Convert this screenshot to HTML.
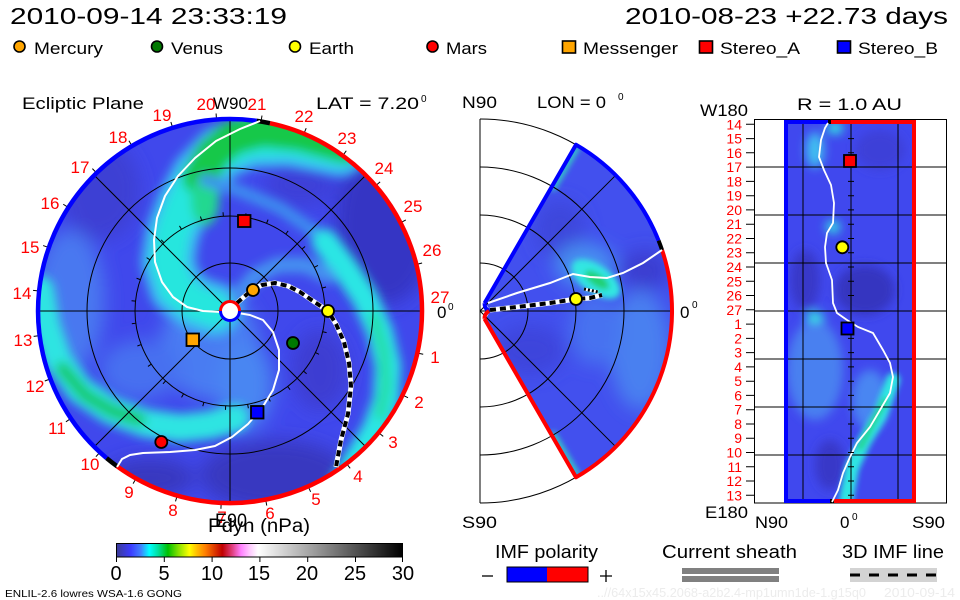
<!DOCTYPE html>
<html><head><meta charset="utf-8"><style>
html,body{margin:0;padding:0;background:#fff;}
svg{display:block;}
text{font-family:"Liberation Sans",sans-serif;}
</style></head><body>
<svg width="960" height="600" viewBox="0 0 960 600" xmlns="http://www.w3.org/2000/svg">
<defs>
<clipPath id="disk"><circle cx="230" cy="311" r="193"/></clipPath>
<clipPath id="wedge"><path d="M484.5,303.2 L576,144.7 A192,192 0 0 1 576,477.3 L484.5,318.8 A9,9 0 0 0 484.5,303.2 Z"/></clipPath>
<clipPath id="rbox"><rect x="786" y="122" width="128" height="380"/></clipPath>
<filter id="b8" x="-50%" y="-50%" width="200%" height="200%"><feGaussianBlur stdDeviation="9"/></filter>
<filter id="b5" x="-50%" y="-50%" width="200%" height="200%"><feGaussianBlur stdDeviation="5"/></filter>
<filter id="b3" x="-50%" y="-50%" width="200%" height="200%"><feGaussianBlur stdDeviation="3"/></filter>
<linearGradient id="cbar" x1="0" x2="1" y1="0" y2="0">
<stop offset="0" stop-color="#3c3c96"/>
<stop offset="0.05" stop-color="#3c3cff"/>
<stop offset="0.085" stop-color="#4080ff"/>
<stop offset="0.115" stop-color="#00ffff"/>
<stop offset="0.145" stop-color="#00e0a0"/>
<stop offset="0.18" stop-color="#00c000"/>
<stop offset="0.215" stop-color="#80e000"/>
<stop offset="0.255" stop-color="#ffff00"/>
<stop offset="0.28" stop-color="#ffc000"/>
<stop offset="0.31" stop-color="#ff8000"/>
<stop offset="0.34" stop-color="#e04000"/>
<stop offset="0.37" stop-color="#c00000"/>
<stop offset="0.405" stop-color="#e04080"/>
<stop offset="0.435" stop-color="#ff80ff"/>
<stop offset="0.465" stop-color="#ffc8ff"/>
<stop offset="0.495" stop-color="#ffffff"/>
<stop offset="1" stop-color="#000000"/>
</linearGradient>
<line id="ot" x1="423" y1="311" x2="428" y2="311" stroke="#000" stroke-width="1"/>
<line id="it" x1="325" y1="311" x2="329" y2="311" stroke="#000" stroke-width="1"/>
</defs>

<!-- Header -->
<text x="10" y="24" font-size="23.5" textLength="277" lengthAdjust="spacingAndGlyphs">2010-09-14 23:33:19</text>
<text x="625" y="24" font-size="23.5" textLength="323" lengthAdjust="spacingAndGlyphs">2010-08-23 +22.73 days</text>

<!-- Legend -->
<g stroke="#000" stroke-width="1.6">
<circle cx="19.5" cy="46.5" r="5.5" fill="#ffa500"/>
<circle cx="157" cy="46.5" r="5.5" fill="#007800"/>
<circle cx="295" cy="46.5" r="5.5" fill="#ffff00"/>
<circle cx="432.5" cy="46.5" r="5.5" fill="#ff0000"/>
<rect x="562.5" y="41" width="13" height="12" fill="#ffa500"/>
<rect x="699.5" y="41" width="13" height="12" fill="#ff0000"/>
<rect x="837.5" y="41" width="13" height="12" fill="#0000ff"/>
</g>
<g font-size="17">
<text x="34" y="54" textLength="69" lengthAdjust="spacingAndGlyphs">Mercury</text>
<text x="171" y="54" textLength="52" lengthAdjust="spacingAndGlyphs">Venus</text>
<text x="309" y="54" textLength="45" lengthAdjust="spacingAndGlyphs">Earth</text>
<text x="446" y="54" textLength="41" lengthAdjust="spacingAndGlyphs">Mars</text>
<text x="583" y="54" textLength="95" lengthAdjust="spacingAndGlyphs">Messenger</text>
<text x="720" y="54" textLength="80" lengthAdjust="spacingAndGlyphs">Stereo_A</text>
<text x="858" y="54" textLength="80" lengthAdjust="spacingAndGlyphs">Stereo_B</text>
</g>

<!-- Panel titles -->
<g font-size="17">
<text x="22" y="109" textLength="122" lengthAdjust="spacingAndGlyphs">Ecliptic Plane</text>
<text x="213" y="109" textLength="35" lengthAdjust="spacingAndGlyphs">W90</text>
<text x="316" y="109" textLength="103" lengthAdjust="spacingAndGlyphs">LAT = 7.20</text>
<text x="421" y="102" font-size="10">0</text>
<text x="462" y="108" textLength="35" lengthAdjust="spacingAndGlyphs">N90</text>
<text x="537" y="108" textLength="69" lengthAdjust="spacingAndGlyphs">LON = 0</text>
<text x="618" y="100" font-size="10">0</text>
<text x="700" y="116" textLength="48" lengthAdjust="spacingAndGlyphs">W180</text>
<text x="797" y="110" textLength="105" lengthAdjust="spacingAndGlyphs">R = 1.0 AU</text>
</g>

<!-- ============ LEFT DISK ============ -->
<g clip-path="url(#disk)">
<circle cx="230" cy="311" r="193" fill="#4048ec"/>
<g filter="url(#b8)">
<ellipse cx="385" cy="225" rx="50" ry="80" fill="#3636c4"/>
<ellipse cx="275" cy="475" rx="75" ry="35" fill="#3838c0"/>
<ellipse cx="150" cy="478" rx="45" ry="20" fill="#3838c0"/>
<ellipse cx="100" cy="190" rx="40" ry="50" fill="#3c40d4"/>
<ellipse cx="320" cy="370" rx="28" ry="40" fill="#3c3ed2"/>
<ellipse cx="300" cy="185" rx="35" ry="22" fill="#3c40d8"/>
<ellipse cx="210" cy="345" rx="50" ry="55" fill="#4a7cf2"/>
<ellipse cx="70" cy="300" rx="35" ry="70" fill="#4878f0"/>
<ellipse cx="245" cy="385" rx="28" ry="45" fill="#4a86f2"/>
<ellipse cx="140" cy="370" rx="40" ry="30" fill="#4670f0"/>
</g>
<g filter="url(#b5)" fill="none" stroke-linecap="round" stroke-linejoin="round">
<!-- arm A -->
<polyline points="340,150 290,140 250,141 220,153 198,176 183,205 172,235 168,262 176,288 195,303 215,310" stroke="#3ab8f2" stroke-width="54"/>
<polyline points="340,150 290,140 250,141 220,153 198,176 183,205 172,235 168,262 176,288 195,303 215,310" stroke="#26e6de" stroke-width="34"/>
<polyline points="345,146 300,134 262,130 232,138 212,155 200,178" stroke="#14c84a" stroke-width="34"/>
<ellipse cx="205" cy="200" rx="14" ry="26" fill="#20d890" stroke="none"/>
<!-- arm B -->
<polyline points="205,180 240,191 280,208 315,232 335,255" stroke="#3e90f0" stroke-width="12"/>
<polyline points="325,242 345,268 365,298 380,332 388,366 386,400 375,430 358,458 342,485" stroke="#2ae6e4" stroke-width="26"/>
<polyline points="374,318 384,352 386,386 380,415" stroke="#24dca0" stroke-width="10"/>
<!-- arm C -->
<polyline points="238,296 255,276 278,265 305,265 328,276" stroke="#4490f0" stroke-width="16"/>
<!-- arm D -->
<polyline points="40,290 46,325 58,360 80,390 110,410 145,423 180,428 210,425 235,418" stroke="#2ee4e2" stroke-width="28"/>
<polyline points="62,368 85,395 112,411 140,420" stroke="#18c860" stroke-width="12"/>
</g>
</g>
<!-- disk grid -->
<g fill="none" stroke="#000" stroke-width="1">
<circle cx="230" cy="311" r="48"/>
<circle cx="230" cy="311" r="95"/>
<circle cx="230" cy="311" r="143"/>
<line x1="37" y1="311" x2="423" y2="311"/>
<line x1="230" y1="118" x2="230" y2="504"/>
<line x1="94" y1="175" x2="366" y2="447"/>
<line x1="94" y1="447" x2="366" y2="175"/>
</g>
<!-- ticks -->
<g>
<use href="#ot" transform="rotate(12.63 230 311)"/><use href="#ot" transform="rotate(25.97 230 311)"/><use href="#ot" transform="rotate(39.3 230 311)"/><use href="#ot" transform="rotate(52.63 230 311)"/><use href="#ot" transform="rotate(65.97 230 311)"/><use href="#ot" transform="rotate(79.3 230 311)"/><use href="#ot" transform="rotate(92.63 230 311)"/><use href="#ot" transform="rotate(105.97 230 311)"/><use href="#ot" transform="rotate(119.3 230 311)"/><use href="#ot" transform="rotate(132.63 230 311)"/><use href="#ot" transform="rotate(145.97 230 311)"/><use href="#ot" transform="rotate(159.3 230 311)"/><use href="#ot" transform="rotate(172.63 230 311)"/><use href="#ot" transform="rotate(185.97 230 311)"/><use href="#ot" transform="rotate(199.3 230 311)"/><use href="#ot" transform="rotate(212.63 230 311)"/><use href="#ot" transform="rotate(225.97 230 311)"/><use href="#ot" transform="rotate(239.3 230 311)"/><use href="#ot" transform="rotate(252.63 230 311)"/><use href="#ot" transform="rotate(265.97 230 311)"/><use href="#ot" transform="rotate(279.3 230 311)"/><use href="#ot" transform="rotate(292.63 230 311)"/><use href="#ot" transform="rotate(305.97 230 311)"/><use href="#ot" transform="rotate(319.3 230 311)"/><use href="#ot" transform="rotate(332.63 230 311)"/><use href="#ot" transform="rotate(345.97 230 311)"/>
<use href="#it" transform="rotate(12.63 230 311)"/><use href="#it" transform="rotate(25.97 230 311)"/><use href="#it" transform="rotate(39.3 230 311)"/><use href="#it" transform="rotate(52.63 230 311)"/><use href="#it" transform="rotate(65.97 230 311)"/><use href="#it" transform="rotate(79.3 230 311)"/><use href="#it" transform="rotate(92.63 230 311)"/><use href="#it" transform="rotate(105.97 230 311)"/><use href="#it" transform="rotate(119.3 230 311)"/><use href="#it" transform="rotate(132.63 230 311)"/><use href="#it" transform="rotate(145.97 230 311)"/><use href="#it" transform="rotate(159.3 230 311)"/><use href="#it" transform="rotate(172.63 230 311)"/><use href="#it" transform="rotate(185.97 230 311)"/><use href="#it" transform="rotate(199.3 230 311)"/><use href="#it" transform="rotate(212.63 230 311)"/><use href="#it" transform="rotate(225.97 230 311)"/><use href="#it" transform="rotate(239.3 230 311)"/><use href="#it" transform="rotate(252.63 230 311)"/><use href="#it" transform="rotate(265.97 230 311)"/><use href="#it" transform="rotate(279.3 230 311)"/><use href="#it" transform="rotate(292.63 230 311)"/><use href="#it" transform="rotate(305.97 230 311)"/><use href="#it" transform="rotate(319.3 230 311)"/><use href="#it" transform="rotate(332.63 230 311)"/><use href="#it" transform="rotate(345.97 230 311)"/>
</g>
<!-- boundary arcs -->
<g fill="none" stroke-width="4.5">
<path d="M256.7,120.9 A192,192 0 0 0 106.6,458.1" stroke="#0000ff"/>
<path d="M117.1,466.3 A192,192 0 1 0 269.9,123.2" stroke="#ff0000"/>
<path d="M269.9,123.2 A192,192 0 0 0 256.7,120.9" stroke="#000"/>
<path d="M106.6,458.1 A192,192 0 0 0 117.1,466.3" stroke="#000"/>
</g>
<!-- current sheet lines -->
<g fill="none" stroke="#fff" stroke-width="2" stroke-linejoin="round">
<polyline points="221,312 203,311 187,307 173,297 162,282 155,262 154,240 157,218 165,196 178,176 195,158 216,141 240,129 260,121"/>
<polyline points="238,313 250,315 263,320 273,332 279,350 279,370 273,390 262,408 248,424 232,437 215,446 195,450 170,452 143,453 130,455 122,459 117,467"/>
</g>
<!-- IMF dashed line -->
<g fill="none" stroke-linejoin="round">
<polyline points="237,303 245,296 252,290 262,285 275,283 288,286 300,292 313,301 328,311 336,324 344,342 349,363 351,386 348,414 341,440 336,467" stroke="#fff" stroke-width="5"/>
<polyline points="237,303 245,296 252,290 262,285 275,283 288,286 300,292 313,301 328,311 336,324 344,342 349,363 351,386 348,414 341,440 336,467" stroke="#000" stroke-width="4" stroke-dasharray="6 4"/>
</g>
<!-- center -->
<circle cx="230" cy="311" r="9" fill="#fff"/>
<path d="M220.5,311 A9.5,9.5 0 0 1 239.5,311" fill="none" stroke="#ff0000" stroke-width="3"/>
<path d="M220.5,311 A9.5,9.5 0 0 0 239.5,311" fill="none" stroke="#0000ff" stroke-width="3"/>
<!-- markers -->
<g stroke="#000" stroke-width="1.8">
<rect x="238" y="215" width="12.5" height="12" fill="#ff0000"/>
<circle cx="253" cy="290" r="6" fill="#ffa500"/>
<circle cx="328" cy="311" r="6" fill="#ffff00"/>
<circle cx="293" cy="343" r="6" fill="#007800"/>
<rect x="186.5" y="333.5" width="12.5" height="12.5" fill="#ffa500"/>
<rect x="251" y="406" width="12.5" height="12.5" fill="#0000ff"/>
<circle cx="161.3" cy="442" r="6" fill="#ff0000"/>
</g>
<!-- disk labels -->
<g font-size="17" fill="#ff0000" text-anchor="middle">
<text x="162" y="121">19</text><text x="206" y="110">20</text><text x="257" y="110">21</text><text x="304" y="122">22</text><text x="347" y="144">23</text><text x="384" y="174">24</text><text x="413" y="212">25</text><text x="432" y="256">26</text><text x="440" y="303">27</text><text x="435" y="363">1</text><text x="419" y="408">2</text><text x="393" y="448">3</text><text x="358" y="482">4</text><text x="316" y="505">5</text><text x="270" y="519">6</text><text x="222" y="523">7</text><text x="173" y="516">8</text><text x="129" y="498">9</text><text x="90" y="470">10</text><text x="57" y="434">11</text><text x="35" y="392">12</text><text x="23" y="346">13</text><text x="22" y="299">14</text><text x="30" y="253">15</text><text x="50" y="209">16</text><text x="80" y="173">17</text><text x="118" y="143">18</text>
</g>
<text x="437" y="318" font-size="17">0</text>
<text x="448" y="310" font-size="10">0</text>
<text x="215" y="527" font-size="19" textLength="32" lengthAdjust="spacingAndGlyphs">E90</text>
<text x="208" y="532" font-size="19" textLength="102" lengthAdjust="spacingAndGlyphs">Pdyn (nPa)</text>

<!-- ============ MIDDLE PANEL ============ -->
<g clip-path="url(#wedge)">
<rect x="470" y="130" width="210" height="360" fill="#4250ee"/>
<g filter="url(#b8)">
<ellipse cx="640" cy="350" rx="30" ry="60" fill="#4a80f0"/>
<ellipse cx="595" cy="330" rx="25" ry="35" fill="#4672f0"/>
<ellipse cx="645" cy="270" rx="25" ry="20" fill="#3a3cd0"/>
<ellipse cx="530" cy="350" rx="35" ry="25" fill="#3c44dc"/>
<ellipse cx="560" cy="230" rx="25" ry="30" fill="#3c46dc"/>
<ellipse cx="585" cy="265" rx="30" ry="22" fill="#4690f0"/>
</g>
<g filter="url(#b3)">
<ellipse cx="596" cy="279" rx="28" ry="14" fill="#30e6e2" transform="rotate(35 596 279)"/>
<ellipse cx="597" cy="280" rx="14" ry="6" fill="#20d070" transform="rotate(35 597 280)"/>
<line x1="552" y1="190" x2="578" y2="146" stroke="#30e0c0" stroke-width="5"/>
<line x1="552" y1="432" x2="578" y2="476" stroke="#30e0c0" stroke-width="5"/>
</g>
</g>
<g fill="none" stroke="#000" stroke-width="1">
<line x1="480" y1="119" x2="480" y2="503"/>
<path d="M480,263 A48,48 0 0 1 480,359"/>
<path d="M480,215 A96,96 0 0 1 480,407"/>
<path d="M480,167 A144,144 0 0 1 480,455"/>
<path d="M480,119 A192,192 0 0 1 480,503"/>
<line x1="480" y1="311" x2="672" y2="311"/>
<line x1="480" y1="311" x2="615.8" y2="175.2"/>
<line x1="480" y1="311" x2="615.8" y2="446.8"/>
</g>
<g fill="none" stroke-width="4" stroke-linejoin="round">
<path d="M484.5,303.2 L576,144.7 A192,192 0 0 1 658.6,240.6" stroke="#0000ff"/>
<path d="M658.6,240.6 A192,192 0 0 1 662.1,250.1" stroke="#000"/>
<path d="M662.1,250.1 A192,192 0 0 1 576,477.3 L484.5,318.8" stroke="#ff0000"/>
<path d="M484.5,303.2 A9,9 0 0 0 489,311" stroke="#0000ff"/>
<path d="M489,311 A9,9 0 0 0 484.5,318.8" stroke="#ff0000"/>
</g>
<polyline points="488,303 517,293 550,283 573,274 590,277 607,278 623,273 643,263 662,250" fill="none" stroke="#fff" stroke-width="2"/>
<polyline points="490,310 517,307 550,303 576,299 590,298 602,295" fill="none" stroke="#fff" stroke-width="5"/>
<polyline points="490,310 517,307 550,303 576,299 590,298 602,295" fill="none" stroke="#000" stroke-width="4" stroke-dasharray="6 4"/>
<line x1="584" y1="289" x2="598" y2="292" stroke="#fff" stroke-width="3"/>
<line x1="584" y1="289" x2="598" y2="292" stroke="#000" stroke-width="3" stroke-dasharray="2 2"/>
<circle cx="576" cy="299" r="6" fill="#ffff00" stroke="#000" stroke-width="1.8"/>
<text x="680" y="318" font-size="17">0</text>
<text x="692" y="308" font-size="10">0</text>
<text x="462" y="528" font-size="17" textLength="35" lengthAdjust="spacingAndGlyphs">S90</text>

<!-- ============ RIGHT PANEL ============ -->
<g clip-path="url(#rbox)">
<rect x="786" y="122" width="128" height="380" fill="#4048ee"/>
<g filter="url(#b5)">
<ellipse cx="815" cy="370" rx="28" ry="50" fill="#4a80f0"/>
<ellipse cx="865" cy="290" rx="30" ry="25" fill="#3434c0"/>
<ellipse cx="805" cy="280" rx="15" ry="30" fill="#3838c8"/>
<ellipse cx="830" cy="465" rx="15" ry="25" fill="#3838c8"/>
<ellipse cx="880" cy="150" rx="25" ry="20" fill="#3c40d8"/>
<ellipse cx="815" cy="150" rx="9" ry="18" fill="#40c0f0"/>
<ellipse cx="835" cy="128" rx="8" ry="6" fill="#30f0e0"/>
<ellipse cx="833" cy="227" rx="7" ry="6" fill="#30f0e0"/>
<ellipse cx="815" cy="317" rx="9" ry="5" fill="#30f0e0"/>
<ellipse cx="870" cy="400" rx="18" ry="30" fill="#4a86f2"/>
</g>
<g filter="url(#b3)" fill="none" stroke-linecap="round">
<polyline points="893,380 880,415 864,442 852,468 846,500" stroke="#2ee6e2" stroke-width="14"/>
<polyline points="885,400 872,425 860,448" stroke="#20d070" stroke-width="5"/>
</g>
</g>
<rect x="754.5" y="119.5" width="192" height="383.5" fill="none" stroke="#000" stroke-width="1"/>
<g stroke="#000" stroke-width="1">
<line x1="803" y1="119" x2="803" y2="503"/>
<line x1="851" y1="119" x2="851" y2="503"/>
<line x1="898" y1="119" x2="898" y2="503"/>
<line x1="754" y1="167" x2="947" y2="167"/>
<line x1="754" y1="215" x2="947" y2="215"/>
<line x1="754" y1="263" x2="947" y2="263"/>
<line x1="754" y1="311" x2="947" y2="311"/>
<line x1="754" y1="359" x2="947" y2="359"/>
<line x1="754" y1="407" x2="947" y2="407"/>
<line x1="754" y1="455" x2="947" y2="455"/>
</g>
<g fill="none" stroke-width="4">
<line x1="786" y1="122" x2="786" y2="502" stroke="#0000ff"/>
<line x1="914" y1="122" x2="914" y2="502" stroke="#ff0000"/>
<line x1="784" y1="122" x2="828" y2="122" stroke="#0000ff"/>
<line x1="828" y1="122" x2="831" y2="122" stroke="#000"/>
<line x1="831" y1="122" x2="916" y2="122" stroke="#ff0000"/>
<line x1="784" y1="501" x2="830" y2="501" stroke="#0000ff"/>
<line x1="830" y1="501" x2="834" y2="501" stroke="#000"/>
<line x1="834" y1="501" x2="916" y2="501" stroke="#ff0000"/>
</g>
<polyline points="828,123 825,128 821,140 819,157 824,170 831,185 834,203 833,223 827,233 825,247 826,263 832,280 833,303 837,313 847,320 858,327 873,333 883,350 890,363 893,377 890,393 880,410 870,427 857,443 850,457 843,473 838,490 832,502" fill="none" stroke="#fff" stroke-width="1.8"/>
<g stroke="#000" stroke-width="1">
<path d="M746,124.3h8M746,138.6h8M746,152.8h8M746,167.1h8M746,181.4h8M746,195.7h8M746,209.9h8M746,224.2h8M746,238.5h8M746,252.7h8M746,267h8M746,281.3h8M746,295.5h8M746,309.8h8M746,324.1h8M746,338.4h8M746,352.6h8M746,366.9h8M746,381.2h8M746,395.4h8M746,409.7h8M746,424h8M746,438.2h8M746,452.5h8M746,466.8h8M746,481h8M746,495.3h8"/>
<path d="M848,138.6h6M848,152.8h6M848,181.4h6M848,195.7h6M848,209.9h6M848,224.2h6M848,238.5h6M848,252.7h6M848,267h6M848,281.3h6M848,295.5h6M848,324.1h6M848,338.4h6M848,352.6h6M848,366.9h6M848,381.2h6M848,395.4h6M848,409.7h6M848,424h6M848,438.2h6M848,452.5h6M848,466.8h6M848,481h6M848,495.3h6"/>
</g>
<g font-size="14" fill="#ff0000" text-anchor="end">
<text x="742" y="129.3">14</text><text x="742" y="143.6">15</text><text x="742" y="157.8">16</text><text x="742" y="172.1">17</text><text x="742" y="186.4">18</text><text x="742" y="200.7">19</text><text x="742" y="214.9">20</text><text x="742" y="229.2">21</text><text x="742" y="243.5">22</text><text x="742" y="257.7">23</text><text x="742" y="272">24</text><text x="742" y="286.3">25</text><text x="742" y="300.5">26</text><text x="742" y="314.8">27</text><text x="742" y="329.1">1</text><text x="742" y="343.4">2</text><text x="742" y="357.6">3</text><text x="742" y="371.9">4</text><text x="742" y="386.2">5</text><text x="742" y="400.4">6</text><text x="742" y="414.7">7</text><text x="742" y="429">8</text><text x="742" y="443.2">9</text><text x="742" y="457.5">10</text><text x="742" y="471.8">11</text><text x="742" y="486">12</text><text x="742" y="500.3">13</text>
</g>
<g stroke="#000" stroke-width="1.8">
<rect x="844" y="155" width="12" height="12" fill="#ff0000"/>
<circle cx="842.3" cy="247.3" r="6" fill="#ffff00"/>
<rect x="841.5" y="322.5" width="12" height="12" fill="#0000ff"/>
</g>
<g font-size="17">
<text x="705" y="518" textLength="43" lengthAdjust="spacingAndGlyphs">E180</text>
<text x="755" y="528" textLength="33" lengthAdjust="spacingAndGlyphs">N90</text>
<text x="840" y="528">0</text>
<text x="912" y="528" textLength="33" lengthAdjust="spacingAndGlyphs">S90</text>
</g>
<text x="852" y="520" font-size="10">0</text>

<!-- ============ COLORBAR ============ -->
<rect x="116.5" y="543.5" width="286" height="13.5" fill="url(#cbar)" stroke="#000" stroke-width="1"/>
<path d="M116.5,557v5M164.3,557v5M212.1,557v5M259.9,557v5M307.7,557v5M355.5,557v5M402.5,557v5" stroke="#000" stroke-width="1"/>
<g font-size="20" text-anchor="middle">
<text x="116" y="580">0</text><text x="164" y="580">5</text><text x="212" y="580">10</text><text x="259" y="580">15</text><text x="307" y="580">20</text><text x="355" y="580">25</text><text x="403" y="580">30</text>
</g>
<text x="5" y="597" font-size="10.5" textLength="177" lengthAdjust="spacingAndGlyphs">ENLIL-2.6 lowres WSA-1.6 GONG</text>

<!-- ============ BOTTOM LEGENDS ============ -->
<g font-size="18">
<text x="495" y="558" textLength="103" lengthAdjust="spacingAndGlyphs">IMF polarity</text>
<text x="662" y="558" textLength="135" lengthAdjust="spacingAndGlyphs">Current sheath</text>
<text x="842" y="558" textLength="102" lengthAdjust="spacingAndGlyphs">3D IMF line</text>
</g>
<line x1="482" y1="576" x2="493" y2="576" stroke="#000" stroke-width="1.3"/>
<rect x="507" y="567" width="40" height="15" fill="#0000ff"/>
<rect x="547" y="567" width="41" height="15" fill="#ff0000"/>
<rect x="507" y="567" width="81" height="15" fill="none" stroke="#000" stroke-width="1"/>
<path d="M600,576h12M606,570v12" stroke="#000" stroke-width="1.3"/>
<rect x="682" y="568" width="97" height="6" fill="#808080"/>
<rect x="682" y="576" width="97" height="6" fill="#808080"/>
<rect x="850" y="568" width="87" height="14" fill="#d3d3d3"/>
<line x1="850" y1="575" x2="937" y2="575" stroke="#000" stroke-width="3" stroke-dasharray="10 9"/>
<text x="597" y="597" font-size="13" fill="#ececec" textLength="269" lengthAdjust="spacingAndGlyphs">..//64x15x45.2068-a2b2.4-mp1umn1de-1.g15q0</text>
<text x="884" y="597" font-size="13" fill="#ececec" textLength="71" lengthAdjust="spacingAndGlyphs">2010-09-14</text>
</svg>
</body></html>
